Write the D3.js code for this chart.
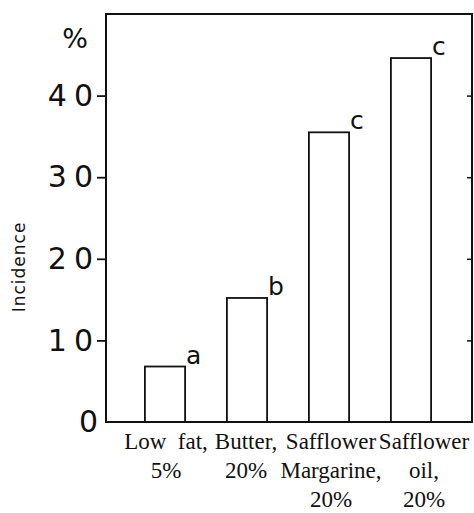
<!DOCTYPE html>
<html>
<head>
<meta charset="utf-8">
<script src="https://cdn.jsdelivr.net/npm/d3@7"></script>
<style>
  html, body { margin: 0; padding: 0; background: #fff; }
  svg { display: block; }
</style>
</head>
<body>
<svg id="chart" width="474" height="513"></svg>
<script>
// Diet groups, incidence (%) and significance letters
const dietLine1 = ["Low  fat,", "Butter,", "Safflower", "Safflower"];
const dietLine2 = ["5%", "20%", "Margarine,", "oil,"];
const dietLine3 = ["", "", "20%", "20%"];
const incidence = [6.8, 15.2, 35.5, 44.6];
const groupLetters = ["a", "b", "c", "c"];
const yTicks = [0, 10, 20, 30, 40];
const yTickLabels = ["0", "10", "20", "30", "40"];

const svg = d3.select("#chart");
const plotLeft = 106, plotRight = 472, plotTop = 14, plotBottom = 422;

const x = d3.scaleBand()
  .domain(dietLine1.map((d, i) => i))
  .range([124, 452])
  .paddingInner(0.51)
  .paddingOuter(0.255);

const y = d3.scaleLinear().domain([0, 50]).range([plotBottom, plotTop]);

const ink = "#111";

// Bars (open rectangles)
svg.append("g").selectAll("rect")
  .data(incidence)
  .join("rect")
  .attr("x", (d, i) => x(i))
  .attr("y", d => y(d))
  .attr("width", x.bandwidth())
  .attr("height", d => y(0) - y(d))
  .attr("fill", "none")
  .attr("stroke", ink)
  .attr("stroke-width", 1.8);

// Significance letters at the top-right corner of each bar
svg.append("g").selectAll("text")
  .data(incidence)
  .join("text")
  .attr("x", (d, i) => x(i) + x.bandwidth() + 1)
  .attr("y", d => y(d) - 3)
  .attr("font-family", "DejaVu Sans")
  .attr("font-size", 25)
  .attr("fill", ink)
  .text((d, i) => groupLetters[i]);

// Frame
svg.append("rect")
  .attr("x", plotLeft).attr("y", plotTop)
  .attr("width", plotRight - plotLeft).attr("height", plotBottom - plotTop)
  .attr("fill", "none").attr("stroke", ink).attr("stroke-width", 2);

// Left axis
const yAxis = svg.append("g")
  .attr("transform", `translate(${plotLeft},0)`)
  .call(d3.axisLeft(y).tickValues(yTicks).tickSize(9)
    .tickFormat((d, i) => yTickLabels[i]));
yAxis.select(".domain").remove();
yAxis.selectAll("line")
  .attr("stroke", ink).attr("stroke-width", 1.8)
  .attr("display", d => d === 0 ? "none" : null);
yAxis.selectAll("text")
  .attr("x", d => d === 0 ? -1 : -6)
  .attr("font-family", "DejaVu Sans")
  .attr("font-size", 30)
  .attr("letter-spacing", 7)
  .attr("fill", ink);

// Short inward ticks on the right edge
const yAxisR = svg.append("g")
  .attr("transform", `translate(${plotRight},0)`)
  .call(d3.axisLeft(y).tickValues(yTicks.filter(d => d > 0)).tickSize(5).tickFormat(""));
yAxisR.select(".domain").remove();
yAxisR.selectAll("line").attr("stroke", ink).attr("stroke-width", 1.5);

// Unit mark
svg.append("text")
  .attr("x", 75).attr("y", 48)
  .attr("text-anchor", "middle")
  .attr("font-family", "DejaVu Sans")
  .attr("font-size", 27)
  .attr("fill", ink)
  .text("%");

// Y axis title
svg.append("text")
  .attr("transform", "translate(25,267) rotate(-90)")
  .attr("text-anchor", "middle")
  .attr("font-family", "DejaVu Sans")
  .attr("font-size", 17)
  .attr("letter-spacing", 1)
  .attr("fill", ink)
  .text("Incidence");

// Category labels (three lines under each bar)
const labelShift = [1, -1, 2, 13];
[dietLine1, dietLine2, dietLine3].forEach((line, li) => {
  svg.append("g").selectAll("text")
    .data(line)
    .join("text")
    .attr("x", (d, i) => x(i) + x.bandwidth() / 2 + labelShift[i])
    .attr("y", 449 + li * 29)
    .attr("text-anchor", "middle")
    .attr("font-family", "Liberation Serif")
    .attr("font-size", 23)
    .attr("fill", ink)
    .style("white-space", "pre")
    .text(d => d);
});
</script>
</body>
</html>
